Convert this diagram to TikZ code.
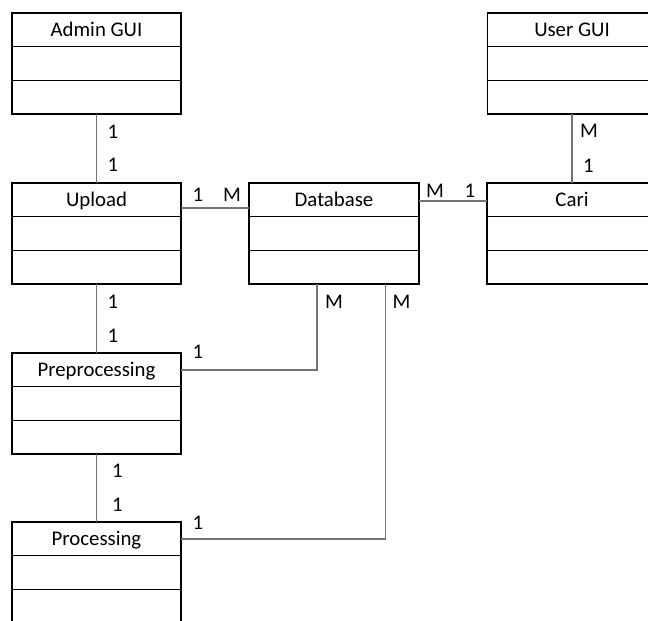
\documentclass[tikz,border=0pt]{standalone}
\usepackage{fontspec}
\setmainfont{Carlito}
\usetikzlibrary{calc}

\tikzset{
  classbox/.style={draw=black, line width=1.3pt, minimum width=169pt,
    minimum height=101pt, inner sep=0pt, outer sep=0pt, fill=white},
  divider/.style={draw=black, line width=1.3pt},
  classtitle/.style={anchor=base, inner sep=0pt, font=\fontsize{20.8}{25}\selectfont},
  conn/.style={draw=black!55, line width=1.1pt},
  mult/.style={inner sep=0pt, font=\fontsize{20.8}{25}\selectfont}
}

\begin{document}
\begin{tikzpicture}[x=1pt, y=-1pt]
\useasboundingbox (0,0) rectangle (648,621);

% class boxes
\node[classbox] (admin) at (96.5,63.5)  {};
\node[classbox] (user)  at (572,63.5)   {};
\node[classbox] (upload) at (96.5,233.5) {};
\node[classbox, minimum width=170pt] (db) at (334,233.5) {};
\node[classbox, minimum width=170pt] (cari) at (572,233.5) {};
\node[classbox] (pre)  at (96.5,403.5) {};
\node[classbox] (proc) at (96.5,572.5) {};

% compartment lines
\foreach \b in {admin,user,upload,db,cari,pre,proc}{
  \draw[divider] ($(\b.north west)+(0,33.7)$) -- ($(\b.north east)+(0,33.7)$);
  \draw[divider] ($(\b.north west)+(0,67.3)$) -- ($(\b.north east)+(0,67.3)$);
}

% class names
\node[classtitle] (tadmin)  at ($(admin.north)+(0,23.3)$)  {Admin GUI};
\node[classtitle] (tuser)   at ($(user.north)+(0,23.3)$)   {User GUI};
\node[classtitle] (tupload) at ($(upload.north)+(0,23.3)$) {Upload};
\node[classtitle] (tdb)     at ($(db.north)+(0,23.3)$)     {Database};
\node[classtitle] (tcari)   at ($(cari.north)+(0,23.3)$)   {Cari};
\node[classtitle] (tpre)    at ($(pre.north)+(0,23.3)$)    {Preprocessing};
\node[classtitle] (tproc)   at ($(proc.north)+(0,23.3)$)   {Processing};

% associations
\draw[conn] (admin.south) -- (upload.north);
\draw[conn] (user.south) -- (cari.north);
\draw[conn] (upload.south) -- (pre.north);
\draw[conn] (pre.south) -- (proc.north);
\draw[conn] ($(upload.north east)+(0,25)$) -- ($(db.north west)+(0,25)$);
\draw[conn] ($(db.north east)+(0,18)$) -- ($(cari.north west)+(0,18)$);
\draw[conn] ($(db.south)+(-17,0)$) |- ($(pre.north east)+(0,17)$);
\draw[conn] ($(db.south)+(51.7,0)$) |- ($(proc.north east)+(0,17)$);

% multiplicities
\node[mult] (m1)  at (113,131.5) {1};
\node[mult] (m2)  at (113,165)   {1};
\node[mult] (m3)  at (198,195)   {1};
\node[mult] (m4)  at (232,195)   {M};
\node[mult] (m5)  at (435,191)   {M};
\node[mult] (m6)  at (470,191)   {1};
\node[mult] (m7)  at (589,131)   {M};
\node[mult] (m8)  at (588.5,166) {1};
\node[mult] (m9)  at (113,302)   {1};
\node[mult] (m10) at (113,336)   {1};
\node[mult] (m11) at (198,352)   {1};
\node[mult] (m12) at (334,302)   {M};
\node[mult] (m13) at (401.5,302) {M};
\node[mult] (m14) at (117.5,470.5) {1};
\node[mult] (m15) at (117.5,505) {1};
\node[mult] (m16) at (198,522.5) {1};
\end{tikzpicture}
\end{document}
